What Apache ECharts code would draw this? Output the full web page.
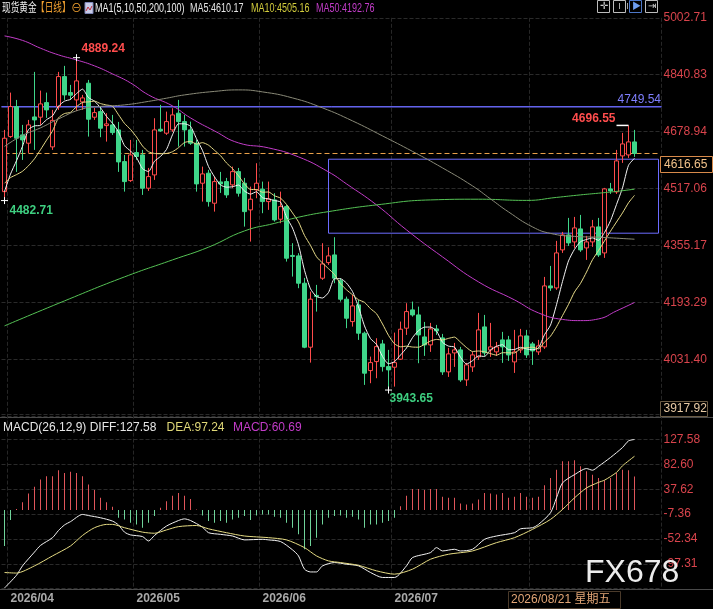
<!DOCTYPE html>
<html>
<head>
<meta charset="utf-8">
<script src="https://cdn.jsdelivr.net/npm/echarts@6/dist/echarts.min.js"></script>
<style>
html,body{margin:0;padding:0;background:#000;}
#chart{width:713px;height:609px;}
</style>
</head>
<body>
<div id="chart"></div>
<script>
// ---- data ----
const firstDay = '2026-03-31';
const holidays = ['2026-04-03'];
const padSlots = 4;  // empty days on the right edge

const opens = [4508.2,4664.7,4750.1,4669.5,4645.9,4720.7,4719.9,4761.4,4635.4,4750.1,
  4835.4,4789.9,4769.1,4763.4,4816.6,4719.9,4735.8,4696.0,4698.0,4683.8,
  4593.6,4539.5,4619.2,4612.6,4517.9,4555.7,4685.7,4674.4,4683.8,4731.3,
  4707.4,4683.8,4645.9,4532.1,4560.6,4475.2,4535.8,4536.7,4527.3,4565.1,
  4532.1,4456.2,4513.1,4515.1,4479.8,4484.6,4429.7,4465.5,4326.7,4325.3,
  4247.6,4065.5,4212.9,4261.8,4306.2,4328.1,4255.0,4202.1,4138.4,4185.9,
  4105.4,3999.0,4024.6,4074.9,4010.3,4008.6,4031.4,4119.6,4171.7,4157.4,
  4094.8,4072.1,4117.6,4092.0,3995.3,4049.3,4057.9,3972.5,4009.5,4037.9,
  4123.3,4057.9,4052.2,4086.3,4086.3,4023.7,4057.9,4097.7,4074.9,4052.2,
  4066.4,4239.9,4234.2,4342.4,4385.0,4365.1,4402.1,4348.0,4365.1,4407.8,
  4333.8,4515.9,4507.4,4609.8,4612.6,4649.6];
const closes = [4660.1,4750.1,4660.1,4655.3,4698.0,4712.2,4757.7,4740.7,4710.8,4835.4,
  4783.3,4782.5,4823.2,4774.8,4714.2,4733.0,4688.6,4700.8,4676.1,4592.7,
  4536.7,4612.6,4607.8,4517.9,4550.9,4683.8,4680.9,4707.4,4726.4,4707.4,
  4683.8,4645.9,4530.1,4558.6,4479.8,4536.7,4530.1,4498.8,4565.1,4503.7,
  4451.3,4486.6,4532.1,4479.8,4487.4,4427.7,4465.5,4318.7,4323.9,4247.6,
  4065.5,4202.1,4210.1,4302.5,4325.3,4261.8,4202.1,4148.0,4183.0,4105.4,
  3991.6,4021.7,4067.2,4010.3,4001.0,4021.7,4116.7,4166.8,4157.4,4100.5,
  4072.1,4117.6,4111.9,3995.3,4046.5,4057.9,3972.5,4015.2,4043.6,4114.8,
  4049.3,4066.4,4066.4,4066.4,4043.6,4052.2,4097.7,4043.6,4055.0,4069.2,
  4239.9,4234.2,4333.8,4385.0,4362.3,4404.9,4342.4,4365.1,4407.8,4328.1,
  4515.9,4510.2,4595.6,4643.9,4649.6,4616.65];
const highs = [4683.8,4789.9,4769.1,4698.0,4712.2,4848.8,4795.6,4789.9,4740.7,4848.8,
  4865.9,4811.8,4889.24,4783.3,4826.0,4746.3,4750.1,4731.3,4726.4,4706.5,
  4612.6,4655.3,4655.3,4626.9,4575.6,4717.0,4754.9,4735.8,4745.5,4769.1,
  4726.4,4707.4,4655.3,4579.3,4570.0,4550.9,4564.3,4547.2,4579.3,4575.6,
  4547.2,4522.4,4589.0,4536.7,4536.7,4503.7,4508.2,4470.4,4361.4,4333.0,
  4262.7,4223.7,4242.8,4361.4,4350.0,4378.5,4261.8,4209.5,4214.3,4200.1,
  4109.9,4038.8,4091.1,4086.3,4057.9,4107.1,4138.4,4190.7,4195.3,4181.0,
  4137.5,4134.7,4129.0,4103.4,4063.5,4077.8,4066.4,4020.9,4052.2,4163.1,
  4157.4,4134.7,4080.6,4109.1,4097.7,4114.8,4117.6,4114.8,4080.6,4086.3,
  4265.5,4296.8,4368.0,4393.6,4433.4,4436.2,4441.9,4382.2,4427.7,4433.4,
  4518.7,4533.0,4626.9,4675.2,4696.55,4683.8];
const lows = [4482.71,4661.0,4564.3,4598.4,4618.3,4626.9,4698.0,4717.9,4626.9,4740.7,
  4769.1,4769.1,4737.8,4740.7,4664.7,4712.2,4663.0,4650.5,4669.5,4564.3,
  4508.2,4535.8,4598.4,4498.8,4510.2,4541.5,4678.1,4669.5,4678.1,4636.2,
  4636.2,4641.1,4508.2,4479.8,4465.5,4451.3,4504.5,4490.3,4518.7,4494.0,
  4408.6,4366.0,4489.4,4446.8,4456.2,4422.9,4418.3,4309.1,4266.4,4233.4,
  4062.7,4021.7,4166.8,4257.0,4299.7,4247.6,4195.3,4119.6,4124.1,4086.3,
  3958.3,3963.1,3977.3,3996.1,3943.65,3953.4,4029.4,4100.5,4152.6,4020.0,
  4040.8,4052.2,4100.5,3986.7,3981.0,4009.5,3966.8,3955.4,3995.3,4029.4,
  4040.8,4037.9,4040.8,4020.9,4026.6,3992.4,4049.3,4035.1,4015.2,4043.6,
  4060.7,4225.7,4228.6,4333.8,4353.7,4348.0,4336.7,4313.9,4350.9,4322.4,
  4319.6,4501.7,4501.7,4589.9,4604.1,4607.0];
// closes just before the window (only feed the first MA5 / MA10 points)
const preClose = [4590,4575,4560,4540,4515,4500,4470,4450,4460];

// long averages, read at sample days: [day index, price]
const ma50Pts = [[0,4951.2],[3,4938.4],[6,4916.2],[9,4897.2],[12,4882.9],[15,4865.9],[18,4843.1],[21,4817.5],
  [24,4783.3],[28,4752.1],[31,4717.9],[35,4680.9],[39,4646.8],[44,4632.6],[49,4607.0],[54,4564.3],[57,4530.2],
  [62,4470.4],[67,4399.3],[73,4322.5],[79,4251.3],[85,4200.1],[89,4163.1],[93,4144.6],[96,4141.2],[99,4146.0],
  [102,4168.8],[105,4192.76]];
const ma100Pts = [[0,4636.8],[3,4668.2],[6,4689.5],[9,4715.1],[13,4743.5],[16,4750.6],[20,4754.9],[24,4764.9],
  [27,4774.0],[30,4783.3],[35,4793.3],[39,4797.6],[43,4791.9],[48,4774.8],[53,4746.4],[58,4709.4],[63,4666.7],
  [68,4622.6],[73,4575.7],[78,4524.4],[81,4487.5],[84,4450.5],[88,4407.8],[91,4389.3],[95,4380.8],[99,4378.5],
  [102,4375.7],[105,4372.8]];
const ma200Pts = [[0,4126.2],[10,4197.3],[20,4265.6],[28,4313.9],[34,4350.1],[40,4396.4],[45,4417.8],[49,4435.4],
  [54,4451.3],[62,4470.4],[71,4484.6],[79,4486.6],[87,4483.2],[92,4491.7],[96,4498.9],[99,4503.7],[102,4508.8],
  [105,4515.1]];

// MACD pane
const macdHist = [-65,-18,2,14,30,42,55,61,61,72,67,69,67,61,46,36,22,14,6,-14,
  -17,-23,-26,-32,-23,-11,4,16,26,31,26,20,1,-10,-20,-23,-20,-23,-17,-14,
  -11,-18,-10,-8,-8,-12,-14,-23,-32,-44,-71,-65,-50,-26,-14,-11,-10,-14,-12,-17,
  -32,-26,-26,-23,-20,-14,7,26,38,38,36,38,38,24,22,22,12,10,12,19,
  31,30,28,31,22,24,31,24,22,24,45,58,73,88,88,90,79,70,64,58,
  54,58,67,73,72,60.69];
const diffPts = [[0,-141],[2,-118],[3,-101],[5,-76],[6,-64],[8,-50],[9,-37],[10,-27],[11,-21],[13,-8],[14,-10],
  [16,-14],[18,-20],[19,-27],[20,-40],[21,-45],[23,-48],[24,-56],[25,-46],[27,-29],[29,-19],[30,-16],[31,-19],
  [33,-31],[34,-41],[36,-44],[38,-47],[40,-54],[43,-53],[44,-54],[46,-57],[48,-72],[49,-83],[50,-107],[51,-112],
  [52,-112],[53,-101],[55,-95],[57,-98],[59,-101],[61,-113],[63,-122],[65,-122],[67,-101],[68,-86],[71,-77],
  [72,-68],[73,-74],[75,-71],[76,-74],[78,-71],[80,-53],[82,-47],[85,-41],[86,-34],[88,-32],[89,-26],[91,-5],
  [92,22],[93,49],[95,64],[97,75],[98,72],[99,79],[101,95],[103,113],[104,125],[105,127.58]];
const deaPts = [[0,-113],[2,-114],[5,-101],[8,-83],[11,-65],[13,-46],[15,-32],[17,-26],[18,-26],[20,-32],
  [23,-40],[25,-42],[27,-36],[29,-30],[32,-28],[34,-34],[37,-41],[40,-47],[44,-50],[47,-54],[50,-68],[52,-83],
  [54,-92],[56,-95],[59,-100],[62,-110],[65,-116],[68,-107],[71,-89],[74,-80],[78,-74],[82,-59],[85,-50],
  [88,-35],[91,-17],[93,1],[95,22],[97,40],[99,50],[100,54],[102,68],[103,80],[105,97.24]];

// axis tick labels
const priceTicks = ['5002.71','4840.83','4678.94','4517.06','4355.17','4193.29','4031.40'];
const macdTicks = ['127.58','82.60','37.62','-7.36','-52.34','-97.31'];

// drawn annotations
const levelLine = 4749.54;
const boxTop = 4600.4, boxBottom = 4389.9, boxFrom = 54;
const markHigh = [12, 4889.24];
const markStart = [0, 4482.71];
const markLow = [64, 3943.65];
const markRecent = [104, 4696.55];
const cursorPrice = '3917.92';
const cursorDate = '2026/08/21 星期五';

// ---- helpers ----
function buildDays(start, count, skip) {
  let out = [], d = new Date(start + 'T00:00:00Z');
  while (out.length < count) {
    let wd = d.getUTCDay(), s = d.toISOString().slice(0, 10);
    if (wd !== 0 && wd !== 6 && skip.indexOf(s) < 0) out.push(s.replace(/-/g, '/'));
    d.setUTCDate(d.getUTCDate() + 1);
  }
  return out;
}
function calcMA(n) {
  let all = preClose.concat(closes), off = preClose.length;
  return closes.map((c, i) => {
    let s = 0;
    for (let k = 0; k < n; k++) s += all[off + i - k];
    return +(s / n).toFixed(2);
  });
}
function tickFmt(list) {
  return function (v) {
    for (let s of list) if (Math.abs(parseFloat(s) - v) < 0.05) return s;
    return '';
  };
}

let days = buildDays(firstDay, closes.length, holidays);
let cats = days.concat(new Array(padSlots).fill(''));
let monthStart = {};
days.forEach((d, i) => { if (i > 0 && d.slice(0, 7) !== days[i - 1].slice(0, 7)) monthStart[i] = true; });
const lastClose = closes[closes.length - 1];

const red = '#ff4b4b', green = '#3fd68a';
const cross = 'path://M0,5L10,5M5,0L5,10';
const numFont = '"Liberation Sans", Arial, sans-serif';
const cjk = '"Liberation Sans", "Noto Sans CJK SC", sans-serif';

function txt(x, y, text, fill, size, extra) {
  return Object.assign({
    type: 'text', x: x, y: y, silent: true, z: 50,
    style: {text: text, fill: fill, font: size + 'px ' + cjk, textVerticalAlign: 'middle'}
  }, extra || {});
}
function box(x, y, w, h, stroke) {
  return {type: 'rect', shape: {x: x, y: y, width: w, height: h}, silent: true, z: 49,
    style: {fill: '#000', stroke: stroke, lineWidth: 1}};
}

let chart = echarts.init(document.getElementById('chart'));

let option = {
  backgroundColor: '#000',
  animation: false,
  textStyle: {fontFamily: numFont},
  grid: [
    {left: 1.5, top: 17.8, width: 660, height: 398.3},
    {left: 1.5, top: 414.6, width: 660, height: 174.1}
  ],
  xAxis: [
    {
      type: 'category', gridIndex: 0, data: cats,
      axisLine: {show: false}, axisTick: {show: false}, axisLabel: {show: false},
      splitLine: {show: true, interval: (i) => !!monthStart[i], lineStyle: {color: '#262626', type: 'dashed'}}
    },
    {
      type: 'category', gridIndex: 1, data: cats,
      axisLine: {show: false}, axisTick: {show: false},
      axisLabel: {
        interval: (i) => !!monthStart[i],
        formatter: (v) => v.slice(0, 7),
        align: 'left', margin: 4, color: '#a9a9a9', fontSize: 12, fontWeight: 'bold'
      },
      splitLine: {show: true, interval: (i) => !!monthStart[i], lineStyle: {color: '#262626', type: 'dashed'}}
    }
  ],
  yAxis: [
    {
      type: 'value', gridIndex: 0, position: 'right',
      min: 3869.515, max: 5002.71, interval: 161.885,
      axisLine: {show: false}, axisTick: {show: false},
      axisLabel: {formatter: tickFmt(priceTicks), color: '#d9444c', fontSize: 12, margin: 2},
      splitLine: {lineStyle: {color: '#2a2a2a', type: 'dashed'}}
    },
    {
      type: 'value', gridIndex: 1, position: 'right',
      min: -142.29, max: 172.57, interval: 44.98,
      axisLine: {show: false}, axisTick: {show: false},
      axisLabel: {formatter: tickFmt(macdTicks), color: '#d9444c', fontSize: 12, margin: 2},
      splitLine: {lineStyle: {color: '#2a2a2a', type: 'dashed'}}
    }
  ],
  series: [
    // current price, dashed across the pane
    {type: 'line', name: 'last', data: [[0, lastClose], [cats.length - 1, lastClose]], showSymbol: false,
      lineStyle: {color: '#eca24a', width: 1, type: [5, 3]}, silent: true, z: 1},
    {
      type: 'candlestick', name: '现货黄金', xAxisIndex: 0, yAxisIndex: 0,
      data: opens.map((o, i) => [o, closes[i], lows[i], highs[i]]),
      barWidth: 4,
      itemStyle: {color: '#000', color0: green, borderColor: red, borderColor0: green, borderWidth: 1},
      markArea: {
        silent: true,
        itemStyle: {color: 'rgba(0,0,0,0)', borderColor: '#6c6cff', borderWidth: 1},
        data: [[{coord: [boxFrom, boxTop]}, {coord: [cats.length - 1, boxBottom]}]]
      },
      markPoint: {
        silent: true,
        itemStyle: {color: 'rgba(0,0,0,0)', borderColor: '#fff', borderWidth: 1},
        label: {fontSize: 12, fontWeight: 'bold'},
        data: [
          {coord: markHigh, symbol: cross, symbolSize: 7,
            label: {position: 'right', distance: 1, offset: [0, -9], color: '#ff4d4d', formatter: markHigh[1].toFixed(2)}},
          {coord: markStart, symbol: cross, symbolSize: 7,
            label: {position: 'right', distance: 1, offset: [0, 10], color: '#3ecf80', formatter: markStart[1].toFixed(2)}},
          {coord: markLow, symbol: cross, symbolSize: 7,
            label: {position: 'right', distance: 1, offset: [-4, 9], color: '#3ecf80', formatter: markLow[1].toFixed(2)}},
          {coord: markRecent, symbol: 'path://M0,0L12,0L12,2L0,2Z', symbolSize: [12, 1.5], symbolOffset: [-6, 0],
            itemStyle: {color: '#fff', borderWidth: 0},
            label: {position: 'left', distance: 1, offset: [0, -7], color: '#ff4d4d', formatter: markRecent[1].toFixed(2)}}
        ]
      }
    },
    {type: 'line', name: 'MA5', data: calcMA(5), showSymbol: false, smooth: 0.2,
      lineStyle: {color: '#f4f4f4', width: 1}, silent: true},
    {type: 'line', name: 'MA10', data: calcMA(10), showSymbol: false, smooth: 0.2,
      lineStyle: {color: '#e8dc8a', width: 1}, silent: true},
    {type: 'line', name: 'MA50', data: ma50Pts, showSymbol: false, smooth: true,
      lineStyle: {color: '#c23cc8', width: 1}, silent: true},
    {type: 'line', name: 'MA200', data: ma200Pts, showSymbol: false, smooth: true,
      lineStyle: {color: '#55c255', width: 1}, silent: true,
      // level line drawn as a zero-height band spanning the pane
      markArea: {
        silent: true,
        itemStyle: {color: 'rgba(0,0,0,0)', borderColor: '#6c6cff', borderWidth: 1},
        label: {show: true, position: ['100%', 0], align: 'right', verticalAlign: 'bottom',
          offset: [-1, -1], color: '#7f7fff', fontSize: 12},
        data: [[{yAxis: levelLine, name: levelLine.toFixed(2)}, {yAxis: levelLine}]]
      }},
    {type: 'line', name: 'MA100', data: ma100Pts, showSymbol: false, smooth: true,
      lineStyle: {color: '#8a8a78', width: 1}, silent: true},
    {type: 'bar', name: 'MACD', xAxisIndex: 1, yAxisIndex: 1, data: macdHist, barWidth: 1, silent: true,
      itemStyle: {color: (p) => p.value >= 0 ? '#e0555a' : '#6fd39a'}},
    {type: 'line', name: 'DIFF', xAxisIndex: 1, yAxisIndex: 1, data: diffPts, showSymbol: false, smooth: 0.25,
      lineStyle: {color: '#f2f2f2', width: 1}, silent: true},
    {type: 'line', name: 'DEA', xAxisIndex: 1, yAxisIndex: 1, data: deaPts, showSymbol: false, smooth: 0.25,
      lineStyle: {color: '#e6dc84', width: 1}, silent: true}
  ],
  graphic: [
    {type: 'line', shape: {x1: 0, y1: 417.5, x2: 713, y2: 417.5}, style: {stroke: '#4a4a4a', lineWidth: 1}, silent: true},
    {type: 'line', shape: {x1: 0, y1: 589.5, x2: 713, y2: 589.5}, style: {stroke: '#4a4a4a', lineWidth: 1}, silent: true},
    // header
    txt(2, 8.5, '现货黄金', '#f0f0f0', 12, {scaleX: 0.72}),
    txt(36, 8.5, '【日线】', '#f0a030', 12, {scaleX: 0.72}),
    txt(71, 8.5, '⊖', '#f0a030', 11),
    {type: 'rect', shape: {x: 85, y: 2.5, width: 8, height: 11}, style: {fill: '#c8cce8', stroke: '#7e86b8', lineWidth: 1}, silent: true, z: 50},
    {type: 'polyline', shape: {points: [[86, 11], [88, 7], [90, 10], [92, 6]]}, style: {stroke: '#c03040', lineWidth: 1, fill: null}, silent: true, z: 51},
    txt(95, 8.5, 'MA1(5,10,50,200,100)', '#f0f0f0', 12, {scaleX: 0.75}),
    txt(190, 8.5, 'MA5:4610.17', '#e4e4e4', 12, {scaleX: 0.75}),
    txt(251, 8.5, 'MA10:4505.16', '#d2cc3c', 12, {scaleX: 0.75}),
    txt(316, 8.5, 'MA50:4192.76', '#c23cc8', 12, {scaleX: 0.75}),
    // toolbar squares
    box(597.5, 0.5, 12, 12, '#bdbdbd'), txt(599.5, 6.5, '✛', '#d0d0d0', 10),
    box(613.5, 0.5, 12, 12, '#bdbdbd'), txt(615.5, 6.5, 'ⅠⅠ', '#d0d0d0', 8),
    box(629.5, 0.5, 12, 12, '#4e78c8'), txt(632, 6.5, '▶', '#6e9ef0', 9),
    box(645.5, 0.5, 12, 12, '#bdbdbd'), txt(647.5, 6.5, '⇥', '#d0d0d0', 10),
    // MACD title
    txt(3, 427.3, 'MACD(26,12,9) DIFF:127.58', '#e6e6e6', 12),
    txt(166.5, 427.3, 'DEA:97.24', '#e0d878', 12),
    txt(233, 427.3, 'MACD:60.69', '#c23cc8', 12),
    // axis boxes
    box(660.5, 156.5, 52, 16, '#d88a4a'),
    txt(664, 164.5, lastClose.toFixed(2), '#f2c28a', 12),
    box(660.5, 401.5, 47, 15, '#6b5c45'),
    txt(663.5, 409, cursorPrice, '#e6c9a4', 12),
    box(508.5, 591.5, 112, 17, '#4a3a2a'),
    txt(511, 600, cursorDate, '#e3a676', 12),
    // watermark
    txt(585, 573.5, 'FX678', '#ececec', 32)
  ]
};
chart.setOption(option);
</script>
</body>
</html>
